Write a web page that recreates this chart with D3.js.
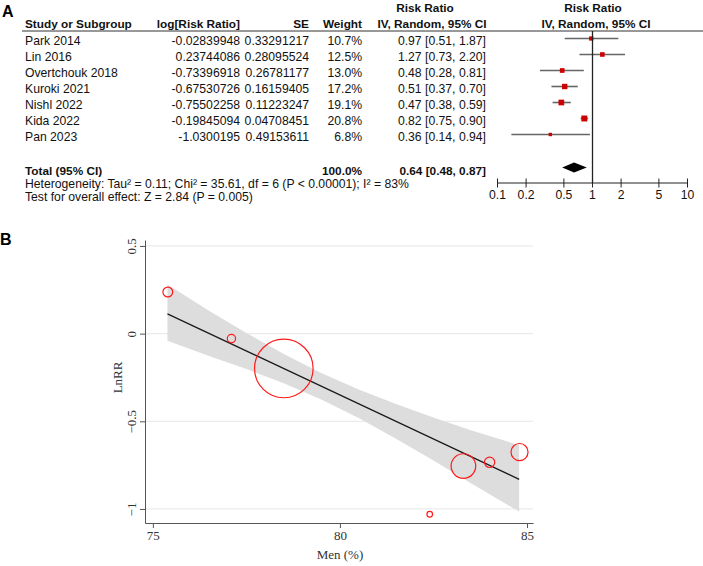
<!DOCTYPE html>
<html lang="en">
<head>
<meta charset="UTF-8">
<title>Risk ratio forest plot and meta-regression</title>
<script src="https://d3js.org/d3.v7.min.js"></script>
<style>
  body { margin: 0; background: #fff; }
  svg { display: block; }
  .tbl text { font-family: "Liberation Sans", Arial, sans-serif; font-size: 12.2px; fill: #111; }
  .tbl .bold { font-weight: bold; font-size: 11.8px; }
  .reg text { font-family: "Liberation Serif", "Times New Roman", serif; font-size: 13px; fill: #333; }
  .panel { font-family: "Liberation Sans", Arial, sans-serif; font-size: 16px; font-weight: bold; fill: #000; }
</style>
</head>
<body>
<svg id="chart" width="703" height="566"></svg>
<script>
// ---- panel A data
const studies = ["Park 2014", "Lin 2016", "Overtchouk 2018", "Kuroki 2021", "Nishl 2022", "Kida 2022", "Pan 2023"];
const logRR = [-0.02839948, 0.23744086, -0.73396918, -0.67530726, -0.75502258, -0.19845094, -1.0300195];
const se = [0.33291217, 0.28095524, 0.26781177, 0.16159405, 0.11223247, 0.04708451, 0.49153611];
const weights = [10.7, 12.5, 13.0, 17.2, 19.1, 20.8, 6.8];
const rr = [0.97, 1.27, 0.48, 0.51, 0.47, 0.82, 0.36];
const rrLow = [0.51, 0.73, 0.28, 0.37, 0.38, 0.75, 0.14];
const rrHigh = [1.87, 2.20, 0.81, 0.70, 0.59, 0.90, 0.94];
const total = { rr: 0.64, lo: 0.48, hi: 0.87, weight: 100.0 };
const rrTicks = [0.1, 0.2, 0.5, 1, 2, 5, 10];

// ---- panel B data
const menPct = [77.1, 75.4, 84.0, 84.8, 83.3, 78.5, 82.4];
const fitX = [75.39, 84.79];
const fitY = [0.113, -0.831];
const bandX = [75.39, 76.5, 77.5, 78.5, 79.5, 80.5, 81.5, 82.5, 83.5, 84.79];
const bandUpper = [0.28, 0.131, 0.004, -0.116, -0.225, -0.319, -0.402, -0.478, -0.551, -0.636];
const bandLower = [-0.04, -0.127, -0.202, -0.283, -0.375, -0.481, -0.600, -0.724, -0.853, -1.015];
const xTicksB = [75, 80, 85];
const yTicksB = [0.5, 0, -0.5, -1];

const svg = d3.select("#chart");

// ================= Panel A =================
const A = svg.append("g").attr("class", "tbl");

svg.append("text").attr("class", "panel").attr("x", 2).attr("y", 17).text("A");

const rowY = d3.scaleLinear().domain([0, 1]).range([41, 57]);
const base = 4; // baseline offset from row centre

// header
const hdr1 = 11.5, hdr2 = 28;
A.append("text").attr("class", "bold").attr("x", 425).attr("y", hdr1).attr("text-anchor", "middle").text("Risk Ratio");
A.append("text").attr("class", "bold").attr("x", 593).attr("y", hdr1).attr("text-anchor", "middle").text("Risk Ratio");
A.append("text").attr("class", "bold").attr("x", 25).attr("y", hdr2).text("Study or Subgroup");
A.append("text").attr("class", "bold").attr("x", 240).attr("y", hdr2).attr("text-anchor", "end").text("log[Risk Ratio]");
A.append("text").attr("class", "bold").attr("x", 309).attr("y", hdr2).attr("text-anchor", "end").text("SE");
A.append("text").attr("class", "bold").attr("x", 362).attr("y", hdr2).attr("text-anchor", "end").text("Weight");
A.append("text").attr("class", "bold").attr("x", 432).attr("y", hdr2).attr("text-anchor", "middle").text("IV, Random, 95% CI");
A.append("text").attr("class", "bold").attr("x", 596).attr("y", hdr2).attr("text-anchor", "middle").text("IV, Random, 95% CI");
A.append("line").attr("x1", 22).attr("x2", 703).attr("y1", 31).attr("y2", 31)
  .attr("stroke", "#333").attr("stroke-width", 1);

// rows
const rows = A.selectAll(".row").data(studies).enter().append("g").attr("class", "row");
rows.append("text").attr("x", 25).attr("y", (d, i) => rowY(i) + base).text(d => d);
rows.append("text").attr("x", 240).attr("y", (d, i) => rowY(i) + base).attr("text-anchor", "end").text((d, i) => String(logRR[i]));
rows.append("text").attr("x", 309).attr("y", (d, i) => rowY(i) + base).attr("text-anchor", "end").text((d, i) => String(se[i]));
rows.append("text").attr("x", 362).attr("y", (d, i) => rowY(i) + base).attr("text-anchor", "end").text((d, i) => weights[i].toFixed(1) + "%");
rows.append("text").attr("x", 486).attr("y", (d, i) => rowY(i) + base).attr("text-anchor", "end")
  .text((d, i) => `${rr[i].toFixed(2)} [${rrLow[i].toFixed(2)}, ${rrHigh[i].toFixed(2)}]`);

// total + footnotes
const totY = 170.5;
A.append("text").attr("class", "bold").attr("x", 25).attr("y", totY + base).text("Total (95% CI)");
A.append("text").attr("class", "bold").attr("x", 362).attr("y", totY + base).attr("text-anchor", "end").text(total.weight.toFixed(1) + "%");
A.append("text").attr("class", "bold").attr("x", 486).attr("y", totY + base).attr("text-anchor", "end")
  .text(`${total.rr.toFixed(2)} [${total.lo.toFixed(2)}, ${total.hi.toFixed(2)}]`);
A.append("text").attr("x", 25).attr("y", 183.5 + base)
  .text("Heterogeneity: Tau² = 0.11; Chi² = 35.61, df = 6 (P < 0.00001); I² = 83%");
A.append("text").attr("x", 25).attr("y", 197 + base)
  .text("Test for overall effect: Z = 2.84 (P = 0.005)");

// forest
const fx = d3.scaleLog().domain([0.1, 10]).range([497.5, 687.5]);
const sq = d3.scaleSqrt().domain([0, 25]).range([0, 6.5]);
const axisY = 183;

A.append("line").attr("x1", fx(1)).attr("x2", fx(1)).attr("y1", 31).attr("y2", axisY)
  .attr("stroke", "#222").attr("stroke-width", 1.3);

rows.append("line")
  .attr("x1", (d, i) => fx(rrLow[i])).attr("x2", (d, i) => fx(rrHigh[i]))
  .attr("y1", (d, i) => rowY(i) - 2.5).attr("y2", (d, i) => rowY(i) - 2.5)
  .attr("stroke", "#666").attr("stroke-width", 1.6);
rows.append("rect")
  .attr("x", (d, i) => fx(rr[i]) - sq(weights[i]) / 2)
  .attr("y", (d, i) => rowY(i) - 2.5 - sq(weights[i]) / 2)
  .attr("width", (d, i) => sq(weights[i]))
  .attr("height", (d, i) => sq(weights[i]))
  .attr("fill", "#cc0000");

const dy = totY - 3;
A.append("path")
  .attr("d", `M${fx(total.lo)},${dy} L${fx(total.rr)},${dy - 5} L${fx(total.hi)},${dy} L${fx(total.rr)},${dy + 5} Z`)
  .attr("fill", "#000");

A.append("line").attr("x1", fx(0.1)).attr("x2", fx(10)).attr("y1", axisY).attr("y2", axisY)
  .attr("stroke", "#222").attr("stroke-width", 1);
const tk = A.selectAll(".rtick").data(rrTicks).enter().append("g").attr("class", "rtick");
tk.append("line").attr("x1", d => fx(d)).attr("x2", d => fx(d)).attr("y1", axisY - 4.5).attr("y2", axisY + 4.5)
  .attr("stroke", "#222");
tk.append("text").attr("x", d => fx(d)).attr("y", axisY + 16).attr("text-anchor", "middle").text(d => d);

// ================= Panel B =================
const B = svg.append("g").attr("class", "reg");

svg.append("text").attr("class", "panel").attr("x", 0).attr("y", 245).text("B");

const x = d3.scaleLinear().domain([74.79, 85.16]).range([145, 533]);
const y = d3.scaleLinear().domain([-1.08, 0.534]).range([523, 240]);

// gridlines
B.append("g").selectAll("line").data(yTicksB).enter().append("line")
  .attr("x1", x(74.79) + 1).attr("x2", x(85.16)).attr("y1", d => y(d)).attr("y2", d => y(d))
  .attr("stroke", "#ebebeb").attr("stroke-width", 1.3);

// confidence band
const band = bandX.map((v, i) => ({ x: v, lo: bandLower[i], hi: bandUpper[i] }));
B.append("path").datum(band)
  .attr("d", d3.area().x(d => x(d.x)).y0(d => y(d.lo)).y1(d => y(d.hi)))
  .attr("fill", "#dddddd");

// fitted line
B.append("path").datum(fitX.map((v, i) => [v, fitY[i]]))
  .attr("d", d3.line().x(d => x(d[0])).y(d => y(d[1])))
  .attr("stroke", "#1a1a1a").attr("stroke-width", 1.3).attr("fill", "none");

// bubbles
const r = d3.scaleLinear().domain([0, 21.24]).range([0, 29.3]);
B.selectAll(".bubble").data(studies).enter().append("circle")
  .attr("cx", (d, i) => x(menPct[i]))
  .attr("cy", (d, i) => y(logRR[i]))
  .attr("r", (d, i) => r(1 / se[i]))
  .attr("fill", "none").attr("stroke", "#ff1a1a").attr("stroke-width", 1.2);

// axes
const xAxis = B.append("g").attr("transform", `translate(0,${y(-1.08)})`)
  .call(d3.axisBottom(x).tickValues(xTicksB).tickSize(5).tickPadding(3).tickSizeOuter(0));
const yAxis = B.append("g").attr("transform", `translate(${x(74.79)},0)`)
  .call(d3.axisLeft(y).tickValues(yTicksB).tickSize(5).tickSizeOuter(0)
    .tickFormat(d => d < 0 ? "\u2212" + Math.abs(d) : d));
[xAxis, yAxis].forEach(g => {
  g.selectAll("path, line").attr("stroke", "#555");
  g.selectAll("text").attr("font-family", "Liberation Serif, Times New Roman, serif")
    .attr("font-size", "13px").attr("fill", "#333");
});
yAxis.selectAll(".tick text")
  .attr("x", null).attr("dy", null).attr("text-anchor", "middle")
  .attr("transform", "translate(-9.5,0) rotate(-90)");

B.append("text").attr("x", x(80)).attr("y", 559).attr("text-anchor", "middle").text("Men (%)");
B.append("text").attr("transform", `translate(122,${y(-0.25)}) rotate(-90)`)
  .attr("text-anchor", "middle").text("LnRR");
</script>
</body>
</html>
